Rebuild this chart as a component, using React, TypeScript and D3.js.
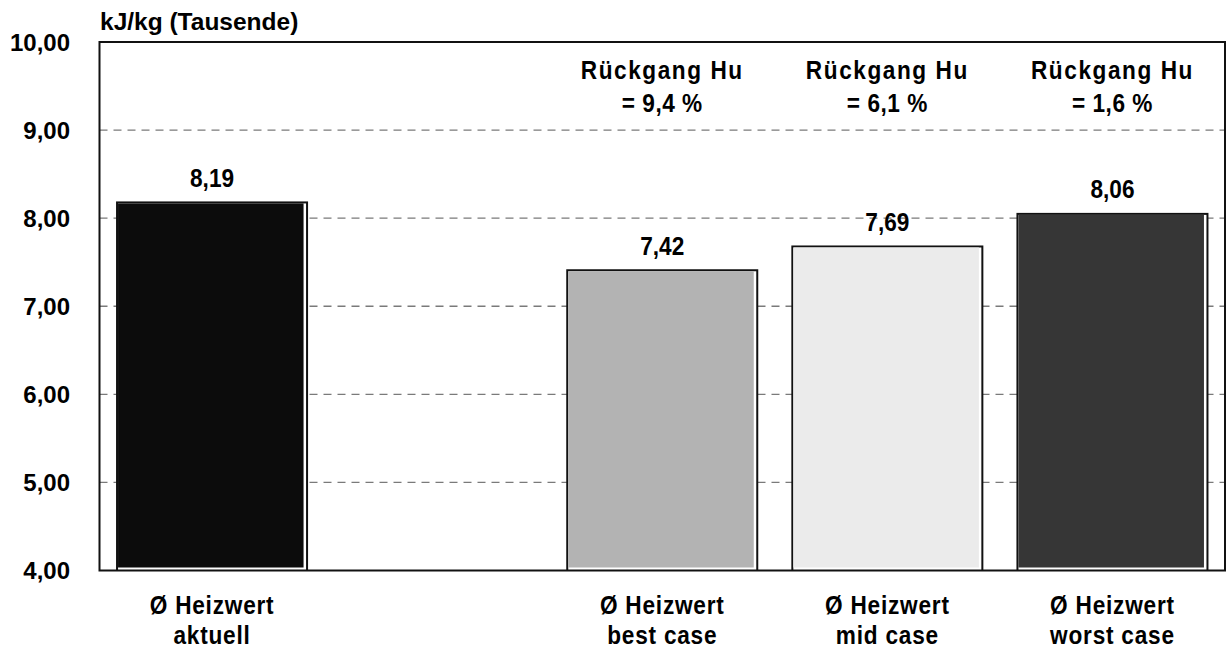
import React from "react";
import * as d3 from "d3";

// Average calorific value (Heizwert), in thousands of kJ/kg
const categories: string[][] = [
  ["Ø Heizwert", "aktuell"],
  [],
  ["Ø Heizwert", "best case"],
  ["Ø Heizwert", "mid case"],
  ["Ø Heizwert", "worst case"],
];
const values: (number | null)[] = [8.19, null, 7.42, 7.69, 8.06];
const barColors: string[] = ["#0c0c0c", "#ffffff", "#b3b3b3", "#ebebeb", "#363636"];
const reductions: (string | null)[] = [null, null, "9,4", "6,1", "1,6"];
const yTicks: number[] = [4, 5, 6, 7, 8, 9, 10];
const gridTicks: number[] = [5, 6, 7, 8, 9];
const unitLabel = "kJ/kg (Tausende)";

const W = 1226;
const H = 651;
const plot = { left: 99.5, right: 1225, top: 42, bottom: 570.5 };

const fmt = (v: number, digits: number) => v.toFixed(digits).replace(".", ",");

export default function App() {
  const x = d3
    .scaleBand<number>()
    .domain(categories.map((_, i) => i))
    .range([plot.left, plot.right])
    .paddingInner(0.147)
    .paddingOuter(0.0735);
  const y = d3.scaleLinear().domain([4, 10]).range([plot.bottom, plot.top]);

  const font = "'Liberation Sans', Arial, Helvetica, sans-serif";
  const narrow = 0.87;

  const condensed = (
    key: string,
    cx: number,
    cy: number,
    text: string,
    spacing: number
  ) => (
    <g key={key} transform={`translate(${cx},${cy}) scale(${narrow},1)`}>
      <text
        x={0}
        y={0}
        textAnchor="middle"
        fontFamily={font}
        fontWeight="bold"
        fontSize={26}
        letterSpacing={spacing}
        fill="#000"
      >
        {text}
      </text>
    </g>
  );

  return (
    <svg
      width={W}
      height={H}
      style={{ position: "absolute", left: 0, top: 0, background: "#fff" }}
    >
      <rect x={0} y={0} width={W} height={H} fill="#fff" />

      {/* dashed gridlines */}
      {gridTicks.map((t) => (
        <line
          key={`g${t}`}
          x1={plot.left}
          x2={plot.right}
          y1={y(t)}
          y2={y(t)}
          stroke="#7a7a7a"
          strokeWidth={1.3}
          strokeDasharray="8,6"
        />
      ))}

      {/* bars: black outline with a white inner edge on the right and bottom */}
      {values.map((v, i) => {
        if (v == null) return null;
        const x0 = x(i)!;
        const bw = x.bandwidth();
        const top = y(v);
        const bottom = y(4);
        return (
          <g key={`b${i}`}>
            <rect x={x0} y={top} width={bw} height={bottom - top} fill="#111" />
            <rect
              x={x0 + 2}
              y={top + 2}
              width={bw - 4}
              height={bottom - top - 2}
              fill="#fff"
            />
            <rect
              x={x0 + 2}
              y={top + 2}
              width={bw - 6.5}
              height={bottom - top - 5}
              fill={barColors[i]}
            />
          </g>
        );
      })}

      {/* plot frame */}
      <rect
        x={plot.left}
        y={plot.top}
        width={plot.right - plot.left}
        height={plot.bottom - plot.top}
        fill="none"
        stroke="#111"
        strokeWidth={2}
      />

      {/* y-axis tick labels */}
      {yTicks.map((t) => (
        <text
          key={`t${t}`}
          x={70}
          y={y(t)}
          dy="0.36em"
          textAnchor="end"
          fontFamily={font}
          fontWeight="bold"
          fontSize={24}
          fill="#000"
        >
          {fmt(t, 2)}
        </text>
      ))}

      {/* unit label */}
      <text
        x={100}
        y={30}
        fontFamily={font}
        fontWeight="bold"
        fontSize={24.5}
        fill="#000"
      >
        {unitLabel}
      </text>

      {/* value labels */}
      {values.map((v, i) =>
        v == null
          ? null
          : condensed(`v${i}`, x(i)! + x.bandwidth() / 2, y(v) - 14.5, fmt(v, 2), 0)
      )}

      {/* reduction notes */}
      {reductions.map((r, i) =>
        r == null ? null : (
          <g key={`r${i}`}>
            {condensed(`ra${i}`, x(i)! + x.bandwidth() / 2, 79, "Rückgang Hu", 1.8)}
            {condensed(`rb${i}`, x(i)! + x.bandwidth() / 2, 111.5, `= ${r} %`, 0.6)}
          </g>
        )
      )}

      {/* category labels */}
      {categories.map((lines, i) =>
        lines.map((line, j) =>
          condensed(
            `c${i}-${j}`,
            x(i)! + x.bandwidth() / 2,
            614 + j * 29.5,
            line,
            0.9
          )
        )
      )}
    </svg>
  );
}
